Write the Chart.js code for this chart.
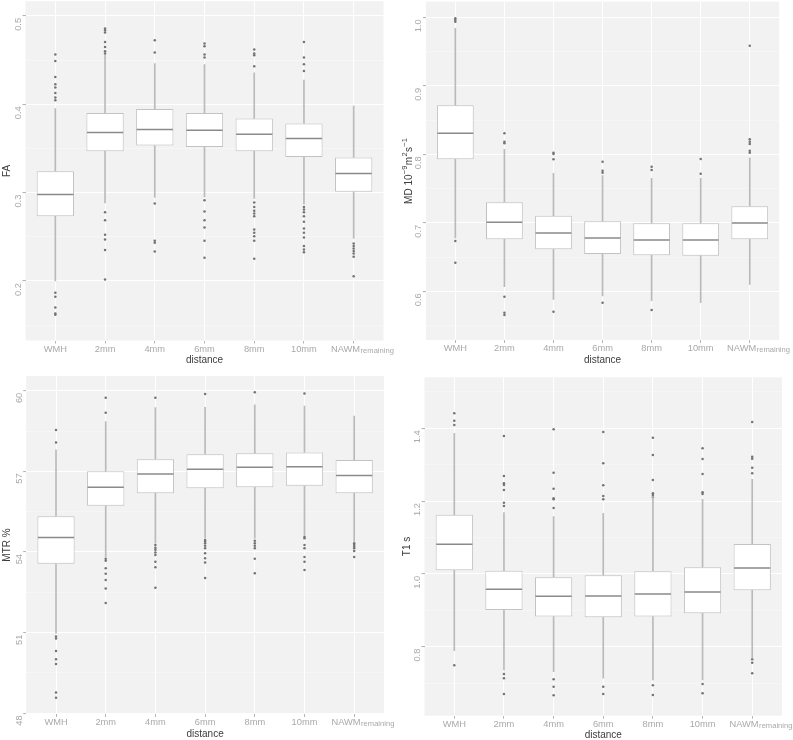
<!DOCTYPE html>
<html>
<head>
<meta charset="utf-8">
<script src="https://cdn.jsdelivr.net/npm/chart.js@4.4.1/dist/chart.umd.min.js"></script>
<style>
html,body{margin:0;padding:0;background:#ffffff;}
#wrap{position:relative;width:793px;height:740px;overflow:hidden;}
canvas{position:absolute;display:block;}
</style>
</head>
<body>
<div id="wrap">
<canvas id="c1" width="396" height="370" style="left:0;top:0"></canvas>
<canvas id="c2" width="397" height="370" style="left:396px;top:0"></canvas>
<canvas id="c3" width="396" height="370" style="left:0;top:370px"></canvas>
<canvas id="c4" width="397" height="370" style="left:396px;top:370px"></canvas>
</div>
<script>
// ---------- categories ----------
const categories = ['WMH', '2mm', '4mm', '6mm', '8mm', '10mm', 'NAWM'];
const nawmSubscript = 'remaining';
const xTitle = 'distance';
// MD axis title pieces: [text, isSuperscript]
const mdTitleParts = [['MD 10', false], ['\u22129', true], ['m', false], ['2', true], ['s', false], ['\u22121', true]];

// ---------- FA ----------
const faMajorTicks = [0.2, 0.3, 0.4, 0.5];
const faMinorTicks = [0.15, 0.25, 0.35, 0.45];
const faWhiskerLow  = [0.2002, 0.2885, 0.2946, 0.2953, 0.2934, 0.2869, 0.2482];
const faQ1          = [0.2734, 0.3470, 0.3534, 0.3518, 0.3470, 0.3405, 0.3009];
const faMedian      = [0.2980, 0.3681, 0.3715, 0.3707, 0.3660, 0.3613, 0.3217];
const faQ3          = [0.3243, 0.3903, 0.3948, 0.3903, 0.3839, 0.3783, 0.3398];
const faWhiskerHigh = [0.3952, 0.4555, 0.4462, 0.4450, 0.4355, 0.4273, 0.3979];
const faOutliers = [
  [0.4563, 0.4491, 0.4310, 0.4227, 0.4190, 0.4129, 0.4077, 0.4046, 0.1867, 0.1821, 0.1701, 0.1633, 0.1618],
  [0.4857, 0.4838, 0.4812, 0.4706, 0.4649, 0.4601, 0.4575, 0.2779, 0.2688, 0.2523, 0.2470, 0.2350, 0.2018],
  [0.4725, 0.4586, 0.2878, 0.2455, 0.2432, 0.2335],
  [0.4688, 0.4657, 0.4563, 0.4529, 0.2915, 0.2787, 0.2689, 0.2606, 0.2455, 0.2262],
  [0.4620, 0.4575, 0.4555, 0.4431, 0.2889, 0.2839, 0.2794, 0.2764, 0.2734, 0.2584, 0.2545, 0.2508, 0.2455, 0.2251],
  [0.4706, 0.4529, 0.4454, 0.4378, 0.2839, 0.2810, 0.2779, 0.2734, 0.2670, 0.2595, 0.2545, 0.2493, 0.2395, 0.2357, 0.2327],
  [0.2425, 0.2395, 0.2369, 0.2341, 0.2312, 0.2274, 0.2055]
];

// ---------- MD ----------
const mdMajorTicks = [0.6, 0.7, 0.8, 0.9, 1.0];
const mdMinorTicks = [0.55, 0.65, 0.75, 0.85, 0.95];
const mdWhiskerLow  = [0.6780, 0.6067, 0.5883, 0.5932, 0.5863, 0.5834, 0.6102];
const mdQ1          = [0.7927, 0.6760, 0.6613, 0.6545, 0.6526, 0.6520, 0.6760];
const mdMedian      = [0.8307, 0.7007, 0.6851, 0.6778, 0.6749, 0.6749, 0.6997];
const mdQ3          = [0.8715, 0.7300, 0.7104, 0.7022, 0.6993, 0.6993, 0.7241];
const mdWhiskerHigh = [0.9840, 0.8073, 0.7723, 0.7688, 0.7650, 0.7650, 0.7950];
const mdOutliers = [
  [0.9985, 0.9960, 0.9936, 0.6735, 0.6418],
  [0.8307, 0.8184, 0.8160, 0.5921, 0.5688, 0.5654],
  [0.8023, 0.8004, 0.7927, 0.5702],
  [0.7892, 0.7761, 0.7731, 0.5834],
  [0.7819, 0.7771, 0.5727],
  [0.7931, 0.7717],
  [0.9585, 0.8219, 0.8184, 0.8150, 0.8053, 0.8023]
];

// ---------- MTR ----------
const mtrMajorTicks = [48, 51, 54, 57, 60];
const mtrMinorTicks = [49.5, 52.5, 55.5, 58.5];
const mtrWhiskerLow  = [50.98, 53.83, 54.33, 54.51, 54.51, 54.64, 54.39];
const mtrQ1          = [53.56, 55.72, 56.19, 56.37, 56.41, 56.46, 56.19];
const mtrMedian      = [54.54, 56.41, 56.90, 57.08, 57.15, 57.17, 56.85];
const mtrQ3          = [55.33, 57.00, 57.45, 57.64, 57.67, 57.70, 57.42];
const mtrWhiskerHigh = [57.80, 58.85, 59.37, 59.38, 59.47, 59.43, 59.06];
const mtrOutliers = [
  [58.54, 58.07, 50.86, 50.78, 50.32, 50.01, 49.83, 48.77, 48.58],
  [59.74, 59.18, 53.75, 53.67, 53.40, 53.19, 52.96, 52.64, 52.10],
  [59.74, 54.26, 54.16, 54.08, 53.98, 53.89, 53.64, 53.43, 52.67],
  [59.88, 54.45, 54.39, 54.33, 54.23, 54.14, 53.95, 53.77, 53.61, 53.03],
  [59.94, 54.42, 54.33, 54.23, 54.14, 53.75, 53.21],
  [59.90, 54.57, 54.51, 54.26, 54.14, 53.81, 53.64, 53.33],
  [54.33, 54.26, 54.20, 54.14, 54.04, 53.81]
];

// ---------- T1 ----------
const t1MajorTicks = [0.8, 1.0, 1.2, 1.4];
const t1MinorTicks = [0.7, 0.9, 1.1, 1.3, 1.5];
const t1WhiskerLow  = [0.7890, 0.7360, 0.7313, 0.7132, 0.7085, 0.7085, 0.7681];
const t1Q1          = [1.0100, 0.9008, 0.8826, 0.8808, 0.8826, 0.8918, 0.9550];
const t1Median      = [1.0813, 0.9577, 0.9385, 0.9393, 0.9448, 0.9503, 1.0162];
const t1Q3          = [1.1626, 1.0088, 0.9907, 0.9962, 1.0071, 1.0181, 1.0821];
const t1WhiskerHigh = [1.3863, 1.1681, 1.1571, 1.1665, 1.2121, 1.2050, 1.2599];
const t1Outliers = [
  [1.4412, 1.4209, 1.4090, 0.7489],
  [1.3788, 1.2690, 1.2489, 1.2442, 1.2305, 1.1956, 1.1865, 0.7250, 0.7132, 0.6700],
  [1.3973, 1.2780, 1.2340, 1.2077, 1.2050, 1.1810, 0.7104, 0.6901, 0.6665],
  [1.3898, 1.3038, 1.2434, 1.2140, 1.2050, 0.6901, 0.6700],
  [1.3742, 1.3266, 1.2580, 1.2214, 1.2168, 1.2104, 0.6940, 0.6673],
  [1.3450, 1.3157, 1.2745, 1.2242, 1.2195, 0.6975, 0.6720],
  [1.4173, 1.3220, 1.3165, 1.2918, 1.2764, 0.7654, 0.7560, 0.7269]
];

// ---------- styling ----------
const FONT = "'Liberation Sans', Arial, sans-serif";
const TICK_COLOR = '#a9a9a9';
const TITLE_COLOR = '#3c3c3c';
const PANEL_BG = '#f2f2f2';
const TICK_SIZE = 9.3;
const TITLE_SIZE = 10;

Chart.defaults.font.family = FONT;

const bgPlugin = {
  id: 'panelBg',
  beforeDraw(chart) {
    const a = chart.chartArea, c = chart.ctx;
    c.save();
    c.fillStyle = PANEL_BG;
    c.fillRect(a.left, a.top, a.right - a.left, a.bottom - a.top);
    c.restore();
  }
};

const nawmPlugin = {
  id: 'nawmLabel',
  afterDraw(chart) {
    const xs = chart.scales.x, c = chart.ctx;
    const px = xs.getPixelForValue(categories.length - 1);
    const y = xs.top + 8.6;
    c.save();
    c.fillStyle = TICK_COLOR;
    c.textBaseline = 'middle';
    c.textAlign = 'left';
    c.font = TICK_SIZE + 'px ' + FONT;
    const x0 = px - 22.7;
    const main = categories[categories.length - 1];
    c.fillText(main, x0, y);
    const w = c.measureText(main).width;
    c.font = '7.6px ' + FONT;
    c.fillText(nawmSubscript, x0 + w + 0.5, y + 1.6);
    c.restore();
  }
};

// rich (super-scripted) y-axis title, used when a panel has titleParts
const richTitlePlugin = {
  id: 'richTitle',
  afterDraw(chart, args, opts) {
    const parts = opts && opts.parts;
    if (!parts) return;
    const a = chart.chartArea, c = chart.ctx;
    c.save();
    c.fillStyle = TITLE_COLOR;
    c.textBaseline = 'alphabetic';
    c.textAlign = 'left';
    const mainFont = TITLE_SIZE + 'px ' + FONT;
    const supFont = '7.6px ' + FONT;
    let total = 0;
    parts.forEach(([t, sup]) => { c.font = sup ? supFont : mainFont; total += c.measureText(t).width + (sup ? 0.6 : 0); });
    const cy = (a.top + a.bottom) / 2;
    c.translate(opts.baselineX, cy);
    c.rotate(-Math.PI / 2);
    let x = -total / 2;
    parts.forEach(([t, sup]) => {
      c.font = sup ? supFont : mainFont;
      c.fillText(t, x + (sup ? 0.3 : 0), sup ? -4.6 : 0);
      x += c.measureText(t).width + (sup ? 0.6 : 0);
    });
    c.restore();
  }
};

function makePanel(p) {
  const n = categories.length;
  const idx = categories.map((c, i) => i);
  const allY = p.major.concat(p.minor).sort((a, b) => a - b);
  const isMajor = v => p.major.includes(v);
  const halfBox = (ctx) => {
    const xs = ctx.chart.scales.x;
    return Math.abs(xs.getPixelForValue(1) - xs.getPixelForValue(0)) * 0.75 / 2 - 0.5;
  };
  const datasets = [
    {
      type: 'line', label: 'median',
      data: idx.map(i => ({x: i, y: p.median[i]})),
      showLine: false, pointStyle: 'line',
      pointRadius: halfBox, pointHoverRadius: halfBox,
      pointBorderColor: '#8a8a8a', pointBackgroundColor: '#8a8a8a', pointBorderWidth: 1.5,
      order: 0
    },
    {
      type: 'bar', label: 'box',
      data: idx.map(i => ({x: i, y: [p.q1[i], p.q3[i]]})),
      backgroundColor: '#ffffff', borderColor: '#c2c2c2', borderWidth: 1,
      borderSkipped: false, grouped: false,
      categoryPercentage: 1, barPercentage: 0.75,
      order: 1
    },
    {
      type: 'bar', label: 'upper whisker',
      data: idx.map(i => ({x: i, y: [p.q3[i], p.wHigh[i]]})),
      backgroundColor: '#bababa', borderWidth: 0, grouped: false, barThickness: 1,
      order: 2
    },
    {
      type: 'bar', label: 'lower whisker',
      data: idx.map(i => ({x: i, y: [p.wLow[i], p.q1[i]]})),
      backgroundColor: '#bababa', borderWidth: 0, grouped: false, barThickness: 1,
      order: 3
    },
    {
      type: 'scatter', label: 'outliers',
      data: p.outliers.flatMap((arr, i) => arr.map(v => ({x: i, y: v}))),
      pointRadius: 1.25, pointHoverRadius: 1.25,
      pointBackgroundColor: '#737373', pointBorderWidth: 0,
      order: 4
    }
  ];
  return new Chart(document.getElementById(p.id), {
    type: 'bar',
    data: {datasets},
    plugins: [bgPlugin, nawmPlugin, richTitlePlugin],
    options: {
      responsive: false,
      animation: false,
      events: [],
      layout: {padding: {left: 0, top: p.T, right: p.W - p.R, bottom: p.H - p.B - 26}},
      plugins: {
        legend: {display: false}, tooltip: {enabled: false},
        richTitle: p.titleParts ? {parts: p.titleParts, baselineX: p.titleBaselineX} : {}
      },
      scales: {
        x: {
          type: 'linear', min: -0.6, max: n - 1 + 0.6, offset: false,
          afterBuildTicks: s => { s.ticks = idx.map(i => ({value: i})); },
          afterFit: s => { s.height = 26; s.paddingLeft = 0; s.paddingRight = 0; },
          border: {display: false},
          grid: {offset: false, color: '#ffffff', lineWidth: 1, drawTicks: true, tickLength: 3, tickColor: '#b5b5b5'},
          ticks: {
            autoSkip: false, maxRotation: 0, minRotation: 0, padding: 0,
            color: TICK_COLOR, font: {size: TICK_SIZE},
            callback: (v) => (v === n - 1 ? '' : categories[v])
          },
          title: {display: true, text: xTitle, color: TITLE_COLOR, font: {size: TITLE_SIZE}, padding: {top: 0, bottom: 0}}
        },
        y: {
          type: 'linear', min: p.min, max: p.max,
          afterBuildTicks: s => { s.ticks = allY.map(v => ({value: v})); },
          afterFit: s => { s.width = p.L; s.paddingTop = 0; s.paddingBottom = 0; },
          border: {display: false},
          grid: {
            color: ctx => (isMajor(ctx.tick && ctx.tick.value) ? '#ffffff' : 'rgba(255,255,255,0.6)'),
            lineWidth: ctx => (isMajor(ctx.tick && ctx.tick.value) ? 1.1 : 0.6),
            tickLength: 3,
            tickColor: ctx => (isMajor(ctx.tick && ctx.tick.value) ? '#b5b5b5' : 'rgba(0,0,0,0)')
          },
          ticks: {
            autoSkip: false, minRotation: 90, maxRotation: 90, padding: 4, labelOffset: 2,
            color: TICK_COLOR, font: {size: TICK_SIZE},
            callback: (v) => (isMajor(v) ? v.toFixed(p.dec) : '')
          },
          title: {display: !p.titleParts, text: p.title, color: TITLE_COLOR, font: {size: TITLE_SIZE}, padding: {top: p.titlePad, bottom: 0}}
        }
      }
    }
  });
}

makePanel({id: 'c1', title: 'FA', W: 396, H: 370, L: 25.5, T: 1, R: 383.5, B: 340.5,
  min: 0.13269, max: 0.51663, major: faMajorTicks, minor: faMinorTicks, dec: 1, titlePad: 1,
  wLow: faWhiskerLow, q1: faQ1, median: faMedian, q3: faQ3, wHigh: faWhiskerHigh, outliers: faOutliers});

makePanel({id: 'c2', title: 'MD', titleParts: mdTitleParts, titleBaselineX: 16, W: 397, H: 370, L: 29.9, T: 1.7, R: 383.2, B: 340,
  min: 0.52891, max: 1.02277, major: mdMajorTicks, minor: mdMinorTicks, dec: 1, titlePad: 5,
  wLow: mdWhiskerLow, q1: mdQ1, median: mdMedian, q3: mdQ3, wHigh: mdWhiskerHigh, outliers: mdOutliers});

makePanel({id: 'c3', title: 'MTR %', W: 396, H: 370, L: 26.2, T: 6, R: 384, B: 344,
  min: 47.974, max: 60.547, major: mtrMajorTicks, minor: mtrMinorTicks, dec: 0, titlePad: 1,
  wLow: mtrWhiskerLow, q1: mtrQ1, median: mtrMedian, q3: mtrQ3, wHigh: mtrWhiskerHigh, outliers: mtrOutliers});

makePanel({id: 'c4', title: 'T1 s', W: 397, H: 370, L: 28.5, T: 7.3, R: 386, B: 345.7,
  min: 0.6104, max: 1.540, major: t1MajorTicks, minor: t1MinorTicks, dec: 1, titlePad: 5.5,
  wLow: t1WhiskerLow, q1: t1Q1, median: t1Median, q3: t1Q3, wHigh: t1WhiskerHigh, outliers: t1Outliers});
</script>
</body>
</html>
